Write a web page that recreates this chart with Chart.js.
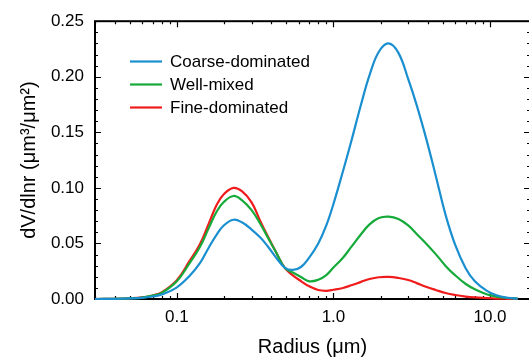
<!DOCTYPE html>
<html>
<head>
<meta charset="utf-8">
<script src="https://cdn.jsdelivr.net/npm/chart.js@4.4.1/dist/chart.umd.min.js"></script>
<style>
  html, body { margin: 0; padding: 0; background: #fff; overflow: hidden; }
  canvas { display: block; }
</style>
</head>
<body>
<canvas id="psd" width="530" height="360"></canvas>
<script>
// radius (um) and dV/dlnr values
var radius = [0.03, 0.04, 0.05, 0.06, 0.07, 0.08, 0.1, 0.12, 0.14, 0.16, 0.18, 0.2, 0.23, 0.26, 0.3, 0.34, 0.38, 0.43, 0.49, 0.55, 0.62, 0.7, 0.8, 0.9, 1.0, 1.15, 1.3, 1.5, 1.7, 1.95, 2.25, 2.6, 3.0, 3.4, 3.9, 4.5, 5.2, 6.0, 7.0, 8.0, 9.5, 11, 13, 15];
var coarseDominated = [0, 0.0002, 0.0005, 0.001, 0.0023, 0.004, 0.0105, 0.0205, 0.032, 0.0464, 0.0582, 0.0664, 0.0713, 0.069, 0.0625, 0.0555, 0.0475, 0.0372, 0.0281, 0.0262, 0.0288, 0.0373, 0.050, 0.0662, 0.0855, 0.115, 0.142, 0.175, 0.2015, 0.2225, 0.230, 0.2215, 0.198, 0.1745, 0.145, 0.111, 0.0757, 0.0485, 0.0275, 0.016, 0.0076, 0.0033, 0.0011, 0.0004];
var wellMixed = [0, 0.0002, 0.0006, 0.0013, 0.003, 0.0055, 0.016, 0.0318, 0.0465, 0.064, 0.079, 0.0875, 0.0927, 0.089, 0.080, 0.068, 0.0557, 0.042, 0.0278, 0.0238, 0.0198, 0.0159, 0.0173, 0.0215, 0.0283, 0.0371, 0.0469, 0.0583, 0.0671, 0.0728, 0.0741, 0.0719, 0.0662, 0.0585, 0.050, 0.0404, 0.0298, 0.0212, 0.0135, 0.0088, 0.0043, 0.0022, 0.0009, 0.0004];
var fineDominated = [0, 0.0002, 0.0006, 0.0014, 0.0032, 0.006, 0.017, 0.0338, 0.049, 0.068, 0.085, 0.0945, 0.100, 0.097, 0.087, 0.0705, 0.0566, 0.042, 0.0277, 0.0213, 0.0161, 0.0114, 0.0081, 0.0074, 0.0083, 0.0099, 0.0123, 0.0154, 0.018, 0.0196, 0.0199, 0.0189, 0.0171, 0.0143, 0.011, 0.0081, 0.0054, 0.0036, 0.0022, 0.0014, 0.0008, 0.0004, 0.0002, 0.0001];

var seriesNames = ['Coarse-dominated', 'Well-mixed', 'Fine-dominated'];
var xTicks = [0.1, 1, 10];
var xTickLabels = ['0.1', '1.0', '10.0'];

Chart.defaults.font.family = '"Liberation Sans", Arial, Helvetica, sans-serif';
Chart.defaults.color = '#000';

function points(values) {
    return radius.map(function (r, i) { return {x: r, y: values[i]}; });
}

// frame with inward ticks on all four sides, legend drawn inside the plot
var framePlugin = {
    id: 'frame',
    beforeDatasetsDraw: function (chart) {
        var ctx = chart.ctx, a = chart.chartArea;
        var xs = chart.scales.x, ys = chart.scales.y;
        ctx.save();
        ctx.strokeStyle = '#000';
        ctx.lineWidth = 2;
        ctx.strokeRect(a.left, a.top, a.right - a.left, a.bottom - a.top);

        ctx.lineWidth = 1.2;
        ctx.beginPath();
        for (var i = 0; i <= 25; i++) {
            var py = Math.round(ys.getPixelForValue(i / 100)) + 0.5;
            var len = i % 5 === 0 ? 6 : 3;
            ctx.moveTo(a.left, py); ctx.lineTo(a.left + len, py);
            ctx.moveTo(a.right, py); ctx.lineTo(a.right - len, py);
        }
        [0.01, 0.1, 1, 10].forEach(function (d) {
            for (var m = 1; m <= 9; m++) {
                var v = m * d;
                if (v < xs.min || v > xs.max) continue;
                var px = Math.round(xs.getPixelForValue(v)) + 0.5;
                var l = m === 1 ? 6 : 3;
                ctx.moveTo(px, a.bottom); ctx.lineTo(px, a.bottom - l);
                ctx.moveTo(px, a.top); ctx.lineTo(px, a.top + l);
            }
        });
        ctx.stroke();
        ctx.restore();
    },
    afterDatasetsDraw: function (chart) {
        var ctx = chart.ctx;
        ctx.save();
        ctx.font = '17px "Liberation Sans", Arial, sans-serif';
        ctx.textBaseline = 'middle';
        chart.data.datasets.forEach(function (ds, i) {
            var y = 61.5 + i * 23;
            ctx.strokeStyle = ds.borderColor;
            ctx.lineWidth = 2.2;
            ctx.beginPath();
            ctx.moveTo(130, y); ctx.lineTo(162, y);
            ctx.stroke();
            ctx.fillStyle = '#000';
            ctx.fillText(ds.label, 170, y + 1);
        });
        ctx.restore();
    }
};

var ctx = document.getElementById('psd').getContext('2d');
new Chart(ctx, {
    type: 'line',
    data: {
        datasets: [
            {label: seriesNames[0], data: points(coarseDominated), borderColor: '#1a8fd0'},
            {label: seriesNames[1], data: points(wellMixed), borderColor: '#16aa3a'},
            {label: seriesNames[2], data: points(fineDominated), borderColor: '#f01c1c'}
        ]
    },
    options: {
        responsive: false,
        animation: false,
        layout: {padding: {left: 0, right: 0, top: 14, bottom: 0}},
        elements: {
            line: {borderWidth: 2.2, tension: 0.4, fill: false},
            point: {radius: 0}
        },
        datasets: {line: {clip: false}},
        plugins: {legend: {display: false}, tooltip: {enabled: false}},
        scales: {
            x: {
                type: 'logarithmic',
                min: 0.03,
                max: 18,
                grid: {display: false, drawTicks: false},
                border: {display: false},
                afterBuildTicks: function (s) {
                    s.ticks = xTicks.map(function (v) { return {value: v}; });
                },
                afterFit: function (s) { s.height = 61; },
                ticks: {
                    font: {size: 17},
                    padding: 8,
                    autoSkip: false,
                    maxRotation: 0,
                    callback: function (v) {
                        var i = xTicks.indexOf(v);
                        return i >= 0 ? xTickLabels[i] : '';
                    }
                },
                title: {display: true, text: 'Radius (μm)', font: {size: 20}, padding: {top: 0, bottom: 1}}
            },
            y: {
                min: 0,
                max: 0.25,
                grid: {display: false, drawTicks: false},
                border: {display: false},
                afterFit: function (s) { s.width = 95; },
                ticks: {
                    stepSize: 0.05,
                    font: {size: 17},
                    padding: 11,
                    callback: function (v) { return v.toFixed(2); }
                },
                title: {display: true, text: 'dV/dlnr (μm³/μm²)', font: {size: 20}, padding: {top: 17, bottom: 0}}
            }
        }
    },
    plugins: [framePlugin]
});
</script>
</body>
</html>
